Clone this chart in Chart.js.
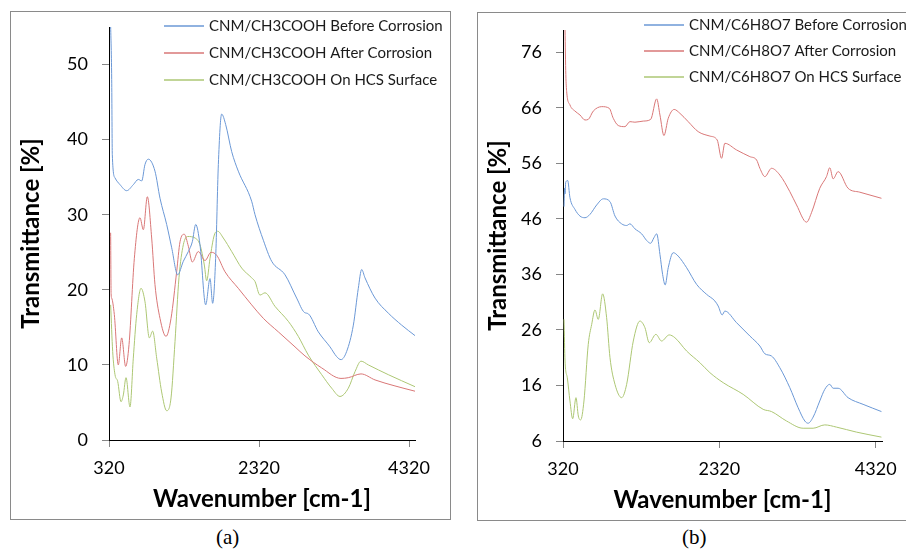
<!DOCTYPE html>
<html>
<head>
<meta charset="utf-8">
<script src="https://cdn.jsdelivr.net/npm/chart.js@4.4.0/dist/chart.umd.min.js"></script>
<style>
    html, body { margin: 0; padding: 0; background: #fff; width: 906px; height: 549px; overflow: hidden; }
    .panel { position: absolute; border: 1px solid #8a8a8a; box-sizing: border-box; }
    .holder { position: absolute; }
    .cap { position: absolute; font-family: 'Liberation Serif', 'DejaVu Serif', serif; font-size: 21px; color: #000; }
</style>
</head>
<body>
<div class="panel" style="left:10px;top:11px;width:441px;height:509px;"></div>
<div class="holder" style="left:11px;top:12px;"><canvas id="chartA" width="438" height="506"></canvas></div>
<div class="panel" style="left:477px;top:12px;width:441px;height:509px;"></div>
<div class="holder" style="left:478px;top:13px;"><canvas id="chartB" width="438" height="506"></canvas></div>
<div class="cap" style="left:216px;top:525px;">(a)</div>
<div class="cap" style="left:682px;top:525px;">(b)</div>
<script>
// axis ticks
var xTicks = [320, 2320, 4320];
var yTicksA = [0, 10, 20, 30, 40, 50];
var yTicksB = [6, 16, 26, 36, 46, 56, 66, 76];

// (a) CNM/CH3COOH
var aBeforeX = [340, 356, 364, 400, 467, 556, 644, 711, 756, 800, 844, 933, 1000, 1089, 1156, 1236, 1311, 1378, 1431, 1476, 1533, 1609, 1667, 1702, 1742, 1778, 1822, 1876, 1956, 2044, 2222, 2267, 2378, 2489, 2667, 2822, 2924, 2978, 3111, 3267, 3356, 3413, 3489, 3578, 3644, 3689, 3733, 3867, 4044, 4222, 4400];
var aBeforeY = [56, 48, 38, 34.9, 34, 33.2, 34, 34.7, 34.5, 36.7, 37.4, 35.8, 32.2, 28.7, 25.6, 22, 23.8, 25.1, 26.4, 28.7, 26, 18, 21.5, 18.2, 24.2, 36.7, 43.4, 42, 38.4, 35.8, 31.8, 30, 26.6, 23.8, 22, 18.9, 17, 16.8, 14.4, 12.4, 11.1, 10.7, 11.8, 15.3, 20.2, 22.7, 21.6, 18.9, 16.9, 15.3, 13.9];

var aAfterX = [342, 348, 356, 391, 444, 489, 542, 587, 658, 733, 778, 831, 889, 933, 1000, 1080, 1147, 1222, 1267, 1324, 1378, 1431, 1511, 1600, 1680, 1756, 1867, 2044, 2222, 2378, 2578, 2800, 2933, 3156, 3413, 3511, 3680, 3867, 4133, 4400];
var aAfterY = [27.6, 19.5, 18.9, 16.7, 10, 13.6, 9.8, 12.7, 24.2, 29.6, 28, 32.4, 26.9, 20.7, 16.2, 13.8, 16.2, 22.4, 26.4, 27.4, 25.8, 23.7, 25.1, 23.9, 25, 24.6, 22.4, 20.2, 18, 16.2, 14.4, 12.4, 11.2, 9.6, 8.2, 8.3, 8.8, 8, 7.2, 6.5];

var aHcsX = [342, 369, 400, 436, 480, 511, 547, 600, 644, 689, 747, 800, 858, 902, 956, 1022, 1089, 1147, 1200, 1253, 1311, 1369, 1467, 1533, 1591, 1622, 1667, 1724, 1769, 1844, 1956, 2089, 2222, 2267, 2333, 2400, 2533, 2711, 2844, 2978, 3156, 3289, 3400, 3511, 3600, 3680, 3778, 4044, 4400];
var aHcsY = [18, 11.8, 8.7, 7.8, 5.1, 6, 8.3, 4.4, 10.9, 16.7, 20.2, 18.4, 13.6, 14.5, 10.9, 6.4, 3.9, 5.6, 13.1, 21.6, 26, 27.1, 26.9, 26, 23.3, 21.2, 24.2, 27.3, 27.8, 26.9, 25.1, 22.9, 21.6, 21.1, 19.3, 19.6, 17.8, 15.8, 13.8, 11.3, 8.7, 6.9, 5.8, 6.9, 9.1, 10.5, 10, 8.7, 7.1];

// (b) CNM/C6H8O7
var bBeforeX = [333, 340, 346, 355, 380, 409, 473, 537, 601, 665, 751, 835, 921, 985, 1070, 1134, 1176, 1240, 1326, 1390, 1441, 1483, 1518, 1560, 1594, 1627, 1666, 1730, 1793, 1901, 2029, 2157, 2263, 2305, 2356, 2390, 2540, 2710, 2838, 2902, 2987, 3093, 3221, 3327, 3413, 3455, 3519, 3604, 3668, 3732, 3775, 3839, 3966, 4158, 4393];
var bBeforeY = [48.2, 51.5, 50.5, 52.6, 52.9, 49.8, 47.7, 46.5, 46.2, 46.8, 48.5, 49.6, 49.1, 46.5, 45.1, 44.8, 45.1, 44.2, 43.3, 42.1, 41.6, 42.6, 43.3, 39.6, 36, 34.1, 37.2, 39.9, 39.3, 37.2, 34.2, 32.4, 31.2, 30.3, 28.7, 29.4, 27.3, 24.9, 23.1, 21.7, 21.3, 19.2, 15.6, 12, 9.6, 9.2, 10.3, 13.2, 15.3, 16.2, 15.5, 15.5, 13.8, 12.6, 11.3];

var bAfterX = [346, 356, 367, 409, 473, 537, 601, 643, 707, 815, 912, 963, 1027, 1112, 1176, 1240, 1346, 1441, 1518, 1560, 1611, 1666, 1742, 1815, 1921, 2049, 2199, 2292, 2348, 2390, 2540, 2710, 2796, 2838, 2902, 2987, 3093, 3221, 3307, 3435, 3498, 3604, 3690, 3732, 3775, 3839, 3966, 4116, 4393];
var bAfterY = [80, 72, 68.9, 66.5, 65.4, 64.7, 63.8, 63.9, 65.4, 66.2, 65.9, 64.1, 62.8, 62.6, 63.5, 63.4, 63.6, 63.9, 67.6, 64.7, 61, 64.1, 65.7, 65, 63.5, 61.7, 60.9, 60.2, 56.9, 59.6, 58.4, 57.2, 56.6, 55.1, 53.6, 55.1, 53.9, 50.9, 48.5, 45.4, 47.1, 51.5, 53.6, 55.2, 53.2, 54.5, 51.5, 50.8, 49.7];

var bHcsX = [333, 346, 375, 409, 444, 486, 516, 546, 588, 643, 687, 729, 771, 827, 878, 921, 985, 1070, 1134, 1219, 1304, 1368, 1423, 1508, 1581, 1678, 1751, 1901, 2071, 2199, 2369, 2624, 2880, 2987, 3179, 3391, 3519, 3668, 3818, 4074, 4393];
var bHcsY = [27.9, 20.4, 17.4, 13.2, 10, 13.8, 10.5, 9.8, 13.2, 23.4, 27, 29.6, 27.9, 32.5, 28.2, 21, 16.2, 13.8, 16.2, 24, 27.6, 26.4, 23.7, 25.2, 24, 25.1, 24.6, 22.2, 20.1, 18.3, 16.5, 14.4, 11.7, 11.3, 9.6, 8.3, 8.3, 8.9, 8.5, 7.6, 6.7];

var blue = '#6b98d6';
var red = '#d97777';
var green = '#adc774';

Chart.defaults.font.family = "Lato, 'Open Sans', sans-serif";
Chart.defaults.color = '#000';

function pairs(xs, ys) {
    return xs.map(function (x, i) { return { x: x, y: ys[i] }; });
}

function series(label, xs, ys, color) {
    return {
        label: label,
        data: pairs(xs, ys),
        borderColor: color,
        borderWidth: 1,
        pointRadius: 0,
        fill: false,
        cubicInterpolationMode: 'monotone'
    };
}

// legend drawn in the top right corner, one row per dataset
var cornerLegend = {
    id: 'cornerLegend',
    afterDraw: function (chart, args, opts) {
        var ctx = chart.ctx;
        ctx.save();
        ctx.font = '15px Lato';
        ctx.textAlign = 'left';
        ctx.textBaseline = 'middle';
        chart.data.datasets.forEach(function (ds, i) {
            var y = opts.y + i * opts.gap;
            ctx.strokeStyle = ds.borderColor;
            ctx.lineWidth = 1.5;
            ctx.beginPath();
            ctx.moveTo(opts.x, y);
            ctx.lineTo(opts.x + 40, y);
            ctx.stroke();
            ctx.fillStyle = '#1a1a1a';
            ctx.fillText(ds.label, opts.x + 45, y);
        });
        ctx.restore();
    }
};

function renderSpectrum(id, datasets, yMin, yMax, yTicks, axisWidth, legendPos, padTop) {
    var ctx = document.getElementById(id).getContext('2d');
    new Chart(ctx, {
        type: 'line',
        data: { datasets: datasets },
        plugins: [cornerLegend],
        options: {
            responsive: false,
            animation: false,
            layout: { padding: { left: 0, right: 34, top: padTop, bottom: 0 } },
            plugins: {
                legend: { display: false },
                tooltip: { enabled: false },
                cornerLegend: legendPos
            },
            scales: {
                x: {
                    type: 'linear',
                    min: 320,
                    max: 4400,
                    afterBuildTicks: function (scale) {
                        scale.ticks = xTicks.map(function (v) { return { value: v }; });
                    },
                    afterFit: function (scale) { scale.height = 78; },
                    ticks: {
                        padding: 10,
                        font: { size: 18 },
                        maxRotation: 0,
                        callback: function (v) { return String(v); }
                    },
                    grid: { drawOnChartArea: false, tickLength: 7, color: '#868686' },
                    border: { color: '#000', width: 1 },
                    title: {
                        display: true,
                        text: 'Wavenumber [cm-1]',
                        font: { size: 24, weight: 'bold' },
                        padding: { top: 0, bottom: 4 }
                    }
                },
                y: {
                    min: yMin,
                    max: yMax,
                    afterBuildTicks: function (scale) {
                        scale.ticks = yTicks.map(function (v) { return { value: v }; });
                    },
                    afterFit: function (scale) {
                        scale.width = axisWidth;
                        scale.paddingTop = 0;
                        scale.paddingBottom = 0;
                    },
                    ticks: {
                        padding: 14,
                        font: { size: 18 },
                        callback: function (v) { return String(v); }
                    },
                    grid: { drawOnChartArea: false, tickLength: 7, color: '#868686' },
                    border: { color: '#000', width: 1 },
                    title: {
                        display: true,
                        text: 'Transmittance [%]',
                        font: { size: 24, weight: 'bold' },
                        padding: { top: 6, bottom: 0 }
                    }
                }
            }
        }
    });
}

renderSpectrum('chartA', [
    series('CNM/CH3COOH Before Corrosion', aBeforeX, aBeforeY, blue),
    series('CNM/CH3COOH After Corrosion', aAfterX, aAfterY, red),
    series('CNM/CH3COOH On HCS Surface', aHcsX, aHcsY, green)
], 0, 55, yTicksA, 98, { x: 153, y: 14, gap: 27 }, 15);

renderSpectrum('chartB', [
    series('CNM/C6H8O7 Before Corrosion', bBeforeX, bBeforeY, blue),
    series('CNM/C6H8O7 After Corrosion', bAfterX, bAfterY, red),
    series('CNM/C6H8O7 On HCS Surface', bHcsX, bHcsY, green)
], 6, 80, yTicksB, 85, { x: 166, y: 12, gap: 26 }, 17);
</script>
</body>
</html>
